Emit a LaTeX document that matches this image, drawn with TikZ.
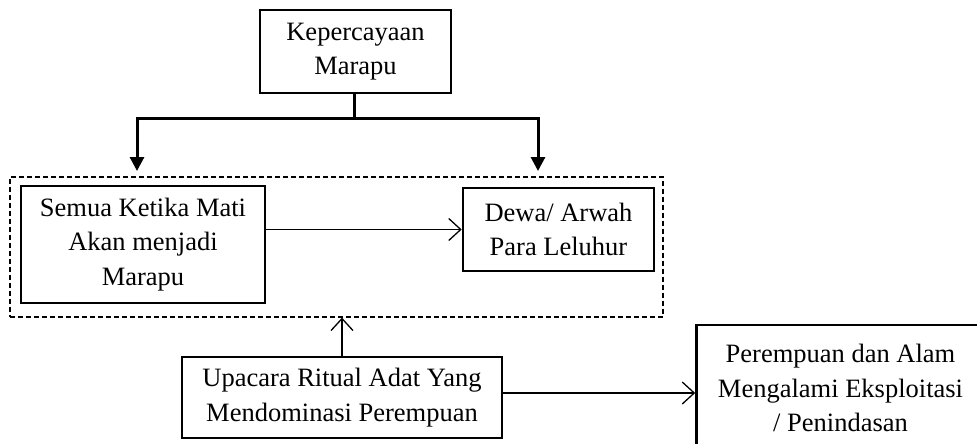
\documentclass[tikz,border=0pt]{standalone}
\usepackage{fontspec}
\setmainfont{Liberation Serif}
\usetikzlibrary{arrows.meta}
\begin{document}
\begin{tikzpicture}[x=1pt,y=-1pt,
  txt/.style={font=\fontsize{26.5}{34.5}\selectfont, align=center, inner sep=0pt},
  box/.style={txt, draw, line width=2.6pt, rectangle},
  groupbox/.style={draw, dashed, line width=1.2pt, dash pattern=on 5pt off 3pt, rectangle, inner sep=0pt},
  branch/.style={line width=3pt},
  brancharrow/.style={line width=3pt, -{Triangle[length=14pt,width=14pt]}},
  thinarrow/.style={line width=1.3pt, -{Straight Barb[length=12pt,width=22pt,line width=1.3pt]}}
]
\useasboundingbox (0,0) rectangle (977,444);
\clip (0,0) rectangle (977,444);

\node[box, minimum width=191pt, minimum height=83pt] (top) at (355.5,51.5) {Kepercayaan\\Marapu};
\node[groupbox, minimum width=653pt, minimum height=140pt] (group) at (336.5,247) {};
\node[box, minimum width=244pt, minimum height=117pt] (left) at (143,244.5) {Semua Ketika Mati\\Akan menjadi\\Marapu};
\node[box, minimum width=191pt, minimum height=83pt] (right) at (558.5,229.5) {Dewa/ Arwah\\Para Leluhur};
\node[box, minimum width=320pt, minimum height=81pt] (ritual) at (342,397.5) {Upacara Ritual Adat Yang\\Mendominasi Perempuan};
\node[box, minimum width=288pt, minimum height=126pt] (result) at (840.5,388) {Perempuan dan Alam\\Mengalami Eksploitasi\\/ Penindasan};

\coordinate (bar) at (354,118);
\coordinate (tipL) at (137,171);
\coordinate (tipR) at (538,171);
\draw[branch] (top.south -| bar) -- (bar);
\draw[brancharrow] ([xshift=1.5pt]bar) -| (tipL);
\draw[brancharrow] ([xshift=-1.5pt]bar) -| (tipR);

\draw[thinarrow] (left.east |- right.west) -- (right.west);
\draw[thinarrow] (ritual.north) -- (ritual.north |- group.south);
\draw[thinarrow] ([yshift=4.5pt]ritual.east) -- ([yshift=4.5pt]ritual.east -| result.west);
\end{tikzpicture}
\end{document}
